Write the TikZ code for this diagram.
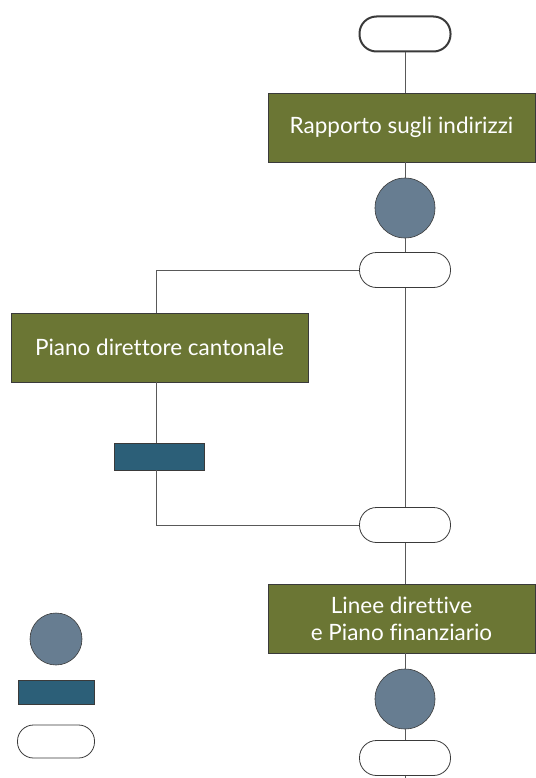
\documentclass[tikz,border=0pt]{standalone}
\usepackage{fontspec}
\setmainfont[Ligatures={NoCommon}]{Lato}
\definecolor{olive}{HTML}{6B7634}
\definecolor{slate}{HTML}{677D91}
\definecolor{teal}{HTML}{2C5F78}
\definecolor{edge}{HTML}{3A3A3A}
\begin{document}
\begin{tikzpicture}[x=1pt,y=-1pt,
  term/.style={draw=edge,fill=white,rounded corners=17pt,minimum width=91pt,minimum height=35pt,inner sep=0pt,line width=0.8pt},
  stepbox/.style={draw=edge,fill=olive,text=white,font=\fontsize{22.5}{27}\selectfont,minimum height=69pt,inner sep=0pt,align=center,line width=0.6pt},
  dot/.style={circle,draw=edge,fill=slate,minimum size=60pt,inner sep=0pt,line width=0.6pt},
  bar/.style={draw=edge,fill=teal,minimum width=90pt,minimum height=27pt,inner sep=0pt,line width=0.6pt},
  conn/.style={draw=black!65,line width=0.7pt}]
\useasboundingbox (0,0) rectangle (535,778);
% nodes
\node[term,line width=2pt] (t1) at (405,34) {};
\node[stepbox,minimum width=267pt] (b1) at (401.5,127.5) {Rapporto sugli indirizzi};
\node[dot] (c1) at (405,208) {};
\node[term] (t2) at (405,270) {};
\node[stepbox,minimum width=297pt] (b2) at (159.5,347.5) {Piano direttore cantonale};
\node[bar] (r1) at (159,456.5) {};
\node[term] (t3) at (405,525) {};
\node[stepbox,minimum width=267pt] (b3) at (401.5,618.5) {Linee direttive\\e Piano finanziario};
\node[dot] (c3) at (405,699) {};
\node[term] (t4) at (405,758) {};
\coordinate (endb) at (405,778);
% legend
\node[dot,minimum size=52pt] (lc) at (56,639) {};
\node[bar,minimum width=76pt,minimum height=24pt] (lr) at (56,692) {};
\node[term,minimum width=77pt,minimum height=33pt,rounded corners=16pt] (lt) at (56,741.5) {};
% corners
\coordinate (k1) at (156,270);
\coordinate (k2) at (156,525);
% connectors
\draw[conn] (t1.south) -- (t1.south |- b1.north);
\draw[conn] (t1.south |- b1.south) -- (c1.north);
\draw[conn] (c1.south) -- (t2.north);
\draw[conn] (t2.south) -- (t3.north);
\draw[conn] (t2.west) -- (k1) -- (b2.north -| k1);
\draw[conn] (b2.south -| k1) -- (r1.north -| k1);
\draw[conn] (r1.south -| k1) -- (k2) -- (t3.west);
\draw[conn] (t3.south) -- (t3.south |- b3.north);
\draw[conn] (t3.south |- b3.south) -- (c3.north);
\draw[conn] (c3.south) -- (t4.north);
\draw[conn] (t4.south) -- (endb);
\end{tikzpicture}
\end{document}
